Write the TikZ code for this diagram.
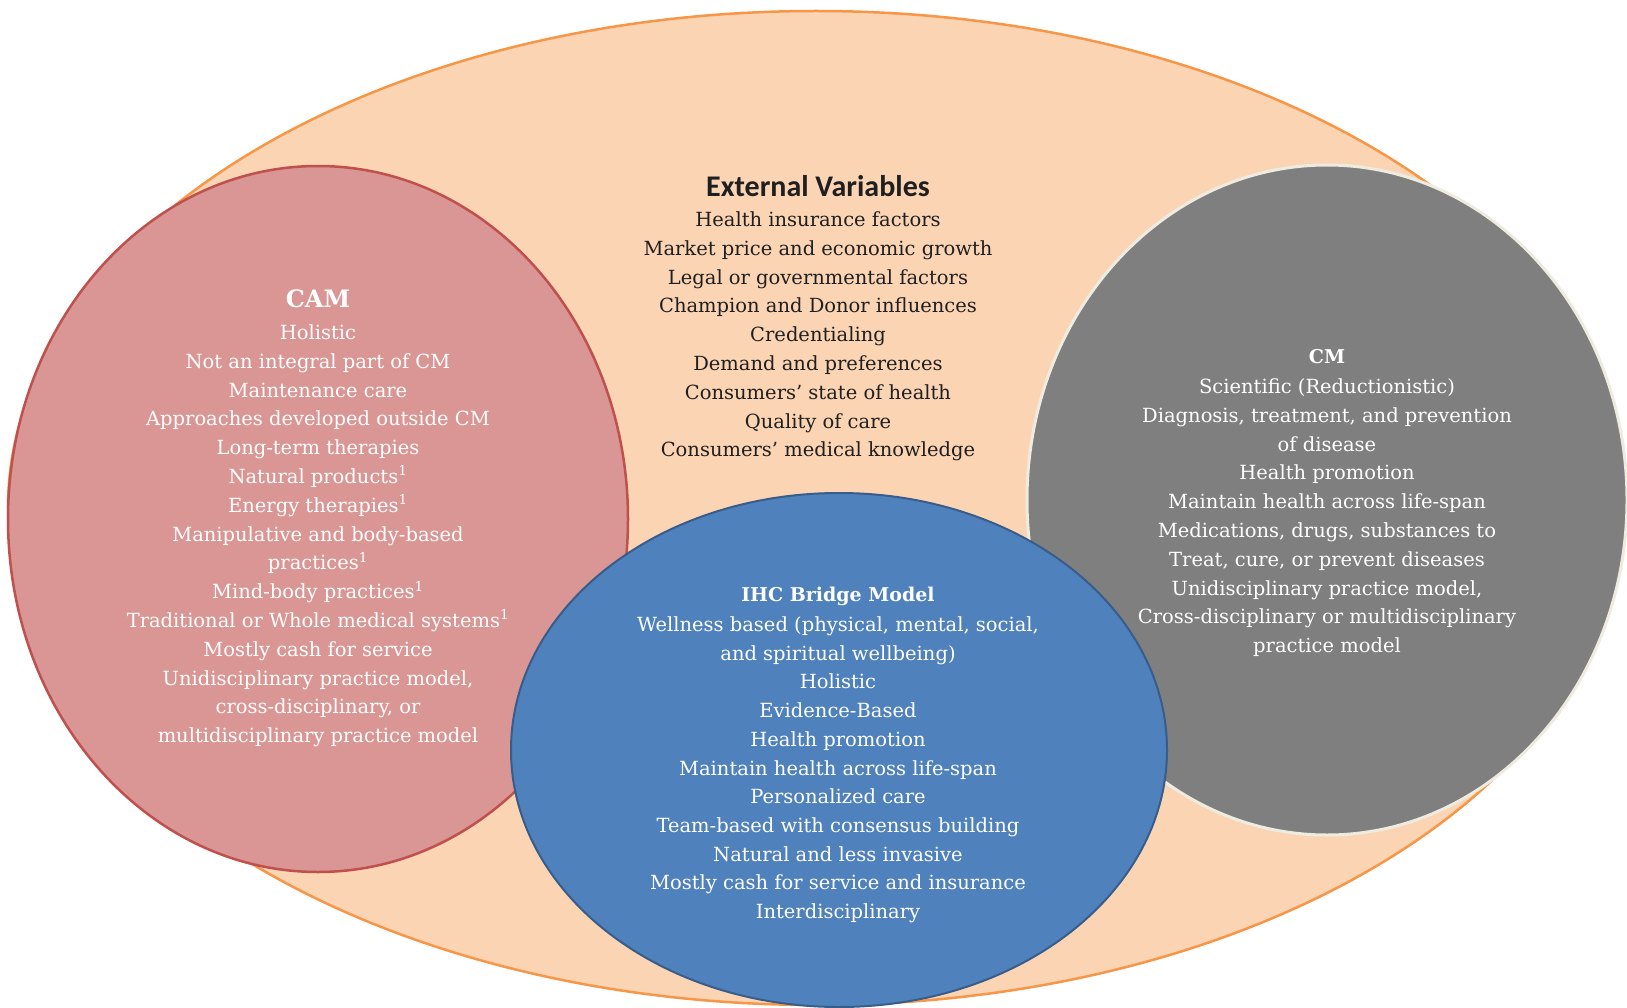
\documentclass[tikz,border=0pt]{standalone}
\usepackage{fontspec}
\setmainfont{DejaVu Serif}
\newfontfamily\headfont{Carlito}
\definecolor{peach}{HTML}{FBD4B4}
\definecolor{peachline}{HTML}{F79646}
\definecolor{camfill}{HTML}{D99694}
\definecolor{camline}{HTML}{C0504D}
\definecolor{ihcfill}{HTML}{4F81BD}
\definecolor{ihcline}{HTML}{385D8A}
\definecolor{cmfill}{HTML}{7F7F7F}
\definecolor{cmline}{HTML}{EEECE1}
\tikzset{
	txt/.style={font=\fontsize{19.5}{24}\selectfont, text height=14pt, text depth=5pt, inner sep=0pt},
	light/.style={txt, text=white},
	dark/.style={txt, text=black!88},
	title/.style={font=\bfseries\fontsize{19}{24}\selectfont},
}
\begin{document}
\begin{tikzpicture}[x=1pt,y=-1pt]
	\useasboundingbox (0,0) rectangle (1627,1008);
	\fill[white] (0,0) rectangle (1627,1008);
	\draw[peachline, line width=2.5pt, fill=peach] (816,508) ellipse [x radius=808, y radius=497];
	\draw[camline, line width=2.5pt, fill=camfill] (318,519) ellipse [x radius=310, y radius=353];
	\draw[cmline, line width=3pt, fill=cmfill] (1327,500) ellipse [x radius=300, y radius=335];
	\draw[ihcline, line width=2pt, fill=ihcfill] (839,750) ellipse [x radius=328, y radius=257];

	\node[dark, font=\headfont\bfseries\fontsize{30}{36}\selectfont, text height=20pt, text depth=0pt] (ext) at (818,187) {External Variables};
	\foreach \t [count=\i from 0] in {Health insurance factors, Market price and economic growth, Legal or governmental factors, Champion and Donor influences, Credentialing, Demand and preferences, Consumers’ state of health, Quality of care, Consumers’ medical knowledge}
		\node[dark] (ext-\i) at (818,{222+28.8*\i}) {\t};

	\node[light, font=\bfseries\fontsize{24}{28}\selectfont, text height=18pt, text depth=0pt] (cam) at (318,298) {CAM};
	\foreach \t [count=\i from 0] in {Holistic, Not an integral part of CM, Maintenance care, Approaches developed outside CM, Long-term therapies, Natural products\textsuperscript{1}, Energy therapies\textsuperscript{1}, Manipulative and body-based, practices\textsuperscript{1}, Mind-body practices\textsuperscript{1}, Traditional or Whole medical systems\textsuperscript{1}, Mostly cash for service, {Unidisciplinary practice model,}, {cross-disciplinary, or}, multidisciplinary practice model}
		\node[light] (cam-\i) at (318,{335+28.8*\i}) {\t};

	\node[light, title] (cm) at (1327,359) {CM};
	\foreach \t [count=\i from 0] in {Scientific (Reductionistic), {Diagnosis, treatment, and prevention}, of disease, Health promotion, Maintain health across life-span, {Medications, drugs, substances to}, {Treat, cure, or prevent diseases}, {Unidisciplinary practice model,}, Cross-disciplinary or multidisciplinary, practice model}
		\node[light] (cm-\i) at (1327,{389+28.8*\i}) {\t};

	\node[light, title] (ihc) at (838,597) {IHC Bridge Model};
	\foreach \t [count=\i from 0] in {{Wellness based (physical, mental, social,}, and spiritual wellbeing), Holistic, Evidence-Based, Health promotion, Maintain health across life-span, Personalized care, Team-based with consensus building, Natural and less invasive, Mostly cash for service and insurance, Interdisciplinary}
		\node[light] (ihc-\i) at (838,{627+28.7*\i}) {\t};
\end{tikzpicture}
\end{document}
